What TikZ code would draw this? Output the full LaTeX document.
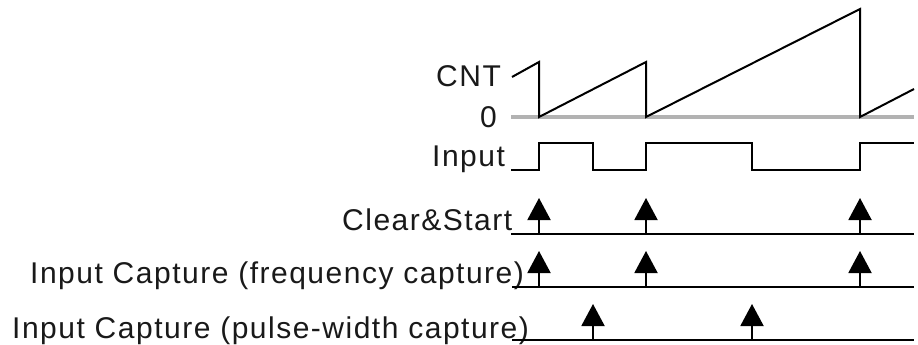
\documentclass[tikz,border=0pt]{standalone}
\usepackage{fontspec}
\setmainfont{Liberation Sans}[LetterSpace=5]
\usetikzlibrary{arrows.meta}

\begin{document}
\begin{tikzpicture}[
    x=1pt,
    y=-1pt,
    every node/.style={font=\fontsize{30}{36}\selectfont, inner sep=0pt},
    lbl/.style={anchor=base west, text=black!90},
    wave/.style={draw=black, line width=2pt, line join=miter},
    zero/.style={draw=black!30, line width=4pt},
    timeline/.style={draw=black, line width=2pt},
    trig/.style={-{Triangle[length=22pt,width=23pt]}, draw=black,
        line width=2pt}
]
    \useasboundingbox (0,0) rectangle (918,345);

    % signal names
    \node[lbl] (cnt) at (436,86) {CNT};
    \node[lbl] (zerolbl) at (480,127) {0};
    \node[lbl] (input) at (432,166) {Input};
    \node[lbl] (clrstart) at (342,230) {Clear\&Start};
    \node[lbl] (freqcap) at (30,283) {Input Capture (frequency capture)};
    \node[lbl] (pwcap) at (12,338) {Input Capture (pulse-width capture)};

    % counter
    \draw[zero] (511,117) -- (914,117);
    \draw[wave] (512,77) -- (539,62) -- (539,117) -- (646,62) -- (646,117)
        -- (860,9) -- (860,117) -- (914,89);

    % input signal
    \draw[wave] (511,170) -- (539,170) -- (539,143) -- (593,143)
        -- (593,170) -- (646,170) -- (646,143) -- (752,143) -- (752,170)
        -- (860,170) -- (860,143) -- (914,143);

    % event lines
    \draw[timeline] (511,234) -- (914,234);
    \draw[timeline] (512,287) -- (914,287);
    \draw[timeline] (512,340) -- (914,340);

    \foreach \x [count=\i] in {539,646,860} {
        \coordinate (cs\i) at (\x,234);
        \coordinate (cstip\i) at (\x,198);
        \draw[trig] (cs\i) -- (cstip\i);
        \coordinate (fc\i) at (\x,287);
        \coordinate (fctip\i) at (\x,251);
        \draw[trig] (fc\i) -- (fctip\i);
    }
    \foreach \x [count=\i] in {593,752} {
        \coordinate (pw\i) at (\x,340);
        \coordinate (pwtip\i) at (\x,304);
        \draw[trig] (pw\i) -- (pwtip\i);
    }
\end{tikzpicture}
\end{document}
